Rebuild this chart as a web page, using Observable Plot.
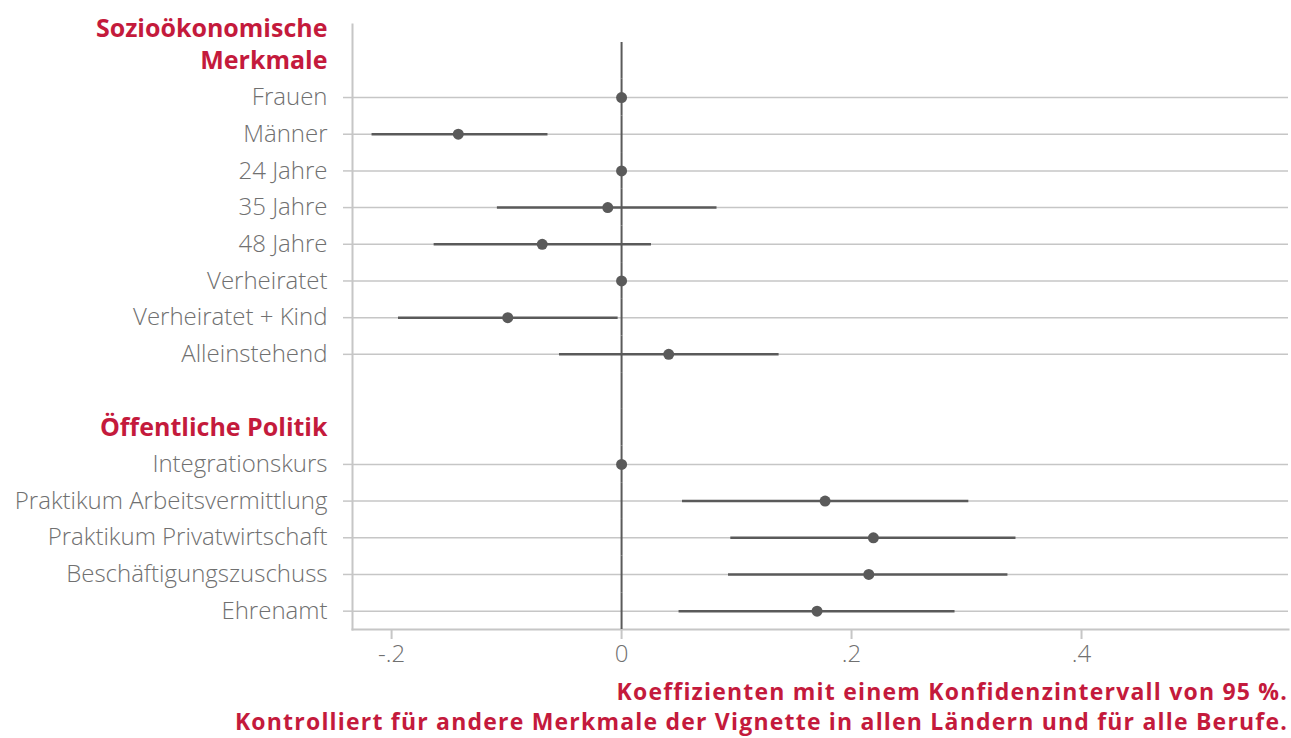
<!DOCTYPE html>
<html>
<head>
<meta charset="utf-8">
<script src="https://cdn.jsdelivr.net/npm/d3@7"></script>
<script src="https://cdn.jsdelivr.net/npm/@observablehq/plot@0.6"></script>
<style>
  body { margin: 0; background: #fff; font-family: "Open Sans", sans-serif; }
  #wrap { width: 1291px; }
  #caption { text-align: right; color: #c41a3c; font-weight: 700; font-size: 23px; letter-spacing: 1.2px; line-height: 30px; padding-right: 3px; margin-top: -4px; }
</style>
</head>
<body>
<div id="wrap">
  <div id="chart"></div>
  <div id="caption">Koeffizienten mit einem Konfidenzintervall von 95 %.<br>Kontrolliert für andere Merkmale der Vignette in allen Ländern und für alle Berufe.</div>
</div>
<script>
// Rows (top to bottom); headers and a blank spacer are rows too
const rows = ["H1", "Frauen", "Männer", "24 Jahre", "35 Jahre", "48 Jahre", "Verheiratet", "Verheiratet + Kind", "Alleinstehend", "blank", "H2", "Integrationskurs", "Praktikum Arbeitsvermittlung", "Praktikum Privatwirtschaft", "Beschäftigungszuschuss", "Ehrenamt"];
const headerLabels = {H1: "Merkmale", H2: "Öffentliche Politik"};
const headerTopLine = "Sozioökonomische";

const items = ["Frauen", "Männer", "24 Jahre", "35 Jahre", "48 Jahre", "Verheiratet", "Verheiratet + Kind", "Alleinstehend", "Integrationskurs", "Praktikum Arbeitsvermittlung", "Praktikum Privatwirtschaft", "Beschäftigungszuschuss", "Ehrenamt"];
const estimate = [0, -0.142, 0, -0.012, -0.069, 0, -0.099, 0.041, 0, 0.177, 0.219, 0.215, 0.170];
const ciLow    = [0, -0.217, 0, -0.108, -0.163, 0, -0.194, -0.054, 0, 0.053, 0.095, 0.093, 0.050];
const ciHigh   = [0, -0.064, 0, 0.083, 0.026, 0, -0.003, 0.137, 0, 0.302, 0.343, 0.336, 0.290];

const xTicks = [-0.2, 0, 0.2, 0.4];
const xTickLabels = ["-.2", "0", ".2", ".4"];

const data = items.map((name, i) => ({name, est: estimate[i], lo: ciLow[i], hi: ciHigh[i]}));
const ci = data.filter(d => d.lo !== d.hi);

const gray = "#5a5a5a";
const light = "#c6c6c6";
const textGray = "#707070";
const red = "#c41a3c";

const chart = Plot.plot({
  width: 1291,
  height: 680,
  marginLeft: 352,
  marginRight: 3,
  marginTop: 24,
  marginBottom: 51,
  style: {fontFamily: "'Open Sans', sans-serif", background: "#fff"},
  x: {domain: [-0.234, 0.58], label: null, axis: null},
  y: {type: "band", domain: rows, range: [42, 629], padding: 0, round: false, label: null, axis: null},
  marks: [
    Plot.ruleY(items, {y: d => d, stroke: light, strokeWidth: 1.5}),
    Plot.axisY(items, {anchor: "left", tickSize: 9, color: light, strokeWidth: 1.5, tickFormat: () => "", label: null}),
    Plot.frame({anchor: "left", stroke: light, strokeWidth: 2}),
    Plot.frame({anchor: "bottom", stroke: light, strokeWidth: 2}),
    Plot.axisX(xTicks, {anchor: "bottom", tickSize: 10, color: light, strokeWidth: 2, tickFormat: () => "", label: null}),
    Plot.text(xTicks, {x: d => d, text: (d, i) => xTickLabels[i], frameAnchor: "bottom", dy: 32, fill: textGray, fontSize: 24, fontWeight: 300}),
    Plot.ruleY(ci, {y: "name", x1: "lo", x2: "hi", stroke: gray, strokeWidth: 2.5}),
    Plot.dot(data, {y: "name", x: "est", r: 5.5, fill: gray, stroke: null}),
    Plot.tickX(rows, {x: () => 0, y: d => d, stroke: gray, strokeWidth: 2}),
    Plot.text(items, {y: d => d, text: d => d, frameAnchor: "left", dx: -25, textAnchor: "end", fill: textGray, fontSize: 24, fontWeight: 300}),
    Plot.text(["H1", "H2"], {y: d => d, text: d => headerLabels[d], frameAnchor: "left", dx: -25, textAnchor: "end", fill: red, fontSize: 25, fontWeight: 700}),
    Plot.text(["H1"], {y: d => d, text: () => headerTopLine, frameAnchor: "left", dx: -25, dy: -32, textAnchor: "end", fill: red, fontSize: 25, fontWeight: 700})
  ]
});
document.getElementById("chart").appendChild(chart);
</script>
</body>
</html>
